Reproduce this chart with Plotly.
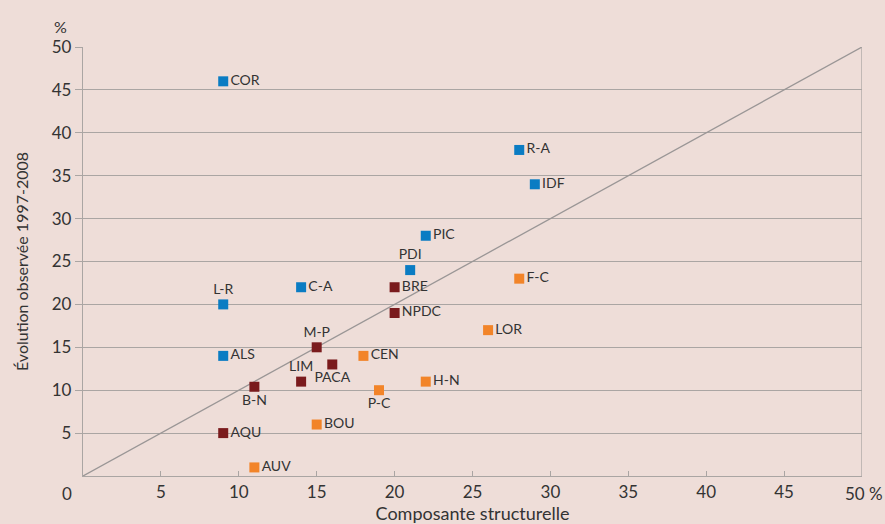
import plotly.graph_objects as go

# ---- data ----
regions = ["COR", "R-A", "IDF", "PIC", "PDI", "C-A", "L-R", "ALS",
           "BRE", "NPDC", "M-P", "PACA", "LIM", "B-N", "AQU",
           "F-C", "LOR", "CEN", "H-N", "P-C", "BOU", "AUV"]
structural = [9, 28, 29, 22, 21, 14, 9, 9,
              20, 20, 15, 16, 14, 11, 9,
              28, 26, 18, 22, 19, 15, 11]
observed = [46, 38, 34, 28, 24, 22, 20, 14,
            22, 19, 15, 13, 11, 10.4, 5,
            23, 17, 14, 11, 10, 6, 1]
group = ["g1"] * 8 + ["g2"] * 7 + ["g3"] * 7
x_ticks = [5, 10, 15, 20, 25, 30, 35, 40, 45]
y_ticks = [5, 10, 15, 20, 25, 30, 35, 40, 45, 50]

# ---- style ----
colors = {"g1": "#0a7cc3", "g2": "#7a1b1d", "g3": "#f28429"}
label_pos = {"L-R": "top center", "PDI": "top center", "M-P": "top center",
             "LIM": "top center", "B-N": "bottom center", "PACA": "bottom center",
             "P-C": "bottom center"}
FONT = "Lato, 'Open Sans', sans-serif"
TXT = "#333333"
GRID = "#aaa5a3"
BG = "#eeddd8"

fig = go.Figure()

# diagonal reference line
fig.add_trace(go.Scatter(x=[0, 50], y=[0, 50], mode="lines",
                         line=dict(color="#9a9696", width=1.3),
                         hoverinfo="skip", showlegend=False, cliponaxis=False))

for g in ["g1", "g2", "g3"]:
    idx = [i for i, v in enumerate(group) if v == g]
    fig.add_trace(go.Scatter(
        x=[structural[i] for i in idx],
        y=[observed[i] for i in idx],
        text=[regions[i] for i in idx],
        mode="markers+text",
        textposition=[label_pos.get(regions[i], "middle right") for i in idx],
        textfont=dict(family=FONT, size=14, color=TXT),
        marker=dict(symbol="square", size=10, color=colors[g]),
        showlegend=False, cliponaxis=False,
    ))

fig.update_xaxes(range=[0, 50], tickvals=x_ticks, ticktext=[str(v) for v in x_ticks],
                 automargin=False,
                 showgrid=False, zeroline=False, showline=True, linecolor=GRID,
                 linewidth=1.3, ticks="inside", ticklen=5, tickcolor=GRID,
                 tickfont=dict(family=FONT, size=17, color=TXT),
                 title=dict(text="Composante structurelle", standoff=8,
                            font=dict(family=FONT, size=18, color=TXT)),
                 mirror=False)
fig.update_yaxes(range=[0, 50], tickvals=y_ticks, ticktext=[str(v) for v in y_ticks],
                 automargin=False,
                 showgrid=True, gridcolor=GRID, gridwidth=1.3, zeroline=False,
                 showline=True, linecolor=GRID, linewidth=1.3,
                 ticks="outside", ticklen=7, tickcolor=GRID,
                 tickfont=dict(family=FONT, size=17, color=TXT),
                 title=dict(text="Évolution observée 1997-2008", standoff=19,
                            font=dict(family=FONT, size=16, color=TXT)))

# right border line
fig.add_shape(type="line", xref="x", yref="y", x0=50, x1=50, y0=0, y1=50,
              line=dict(color=GRID, width=1.3))

fig.add_annotation(x=0, y=0, xref="x", yref="y", text="0", showarrow=False,
                   xshift=-16, yshift=-17, font=dict(family=FONT, size=17, color=TXT))
fig.add_annotation(x=50, y=0, xref="x", yref="y", text="50 %", showarrow=False,
                   xanchor="left", xshift=-18, yshift=-17, borderpad=0,
                   font=dict(family=FONT, size=17, color=TXT))
fig.add_annotation(x=0, y=50, xref="x", yref="y", text="%", showarrow=False,
                   xshift=-23, yshift=21, font=dict(family=FONT, size=16, color=TXT))

fig.update_layout(width=885, height=524, paper_bgcolor=BG, plot_bgcolor=BG,
                  margin=dict(l=83, r=23, t=47, b=48), showlegend=False)

fig.write_html("out.html", config={"displayModeBar": False},
               post_script="document.body.style.margin='0';"
                           "document.body.style.overflow='hidden';"
                           "document.body.style.background='#eeddd8';")
